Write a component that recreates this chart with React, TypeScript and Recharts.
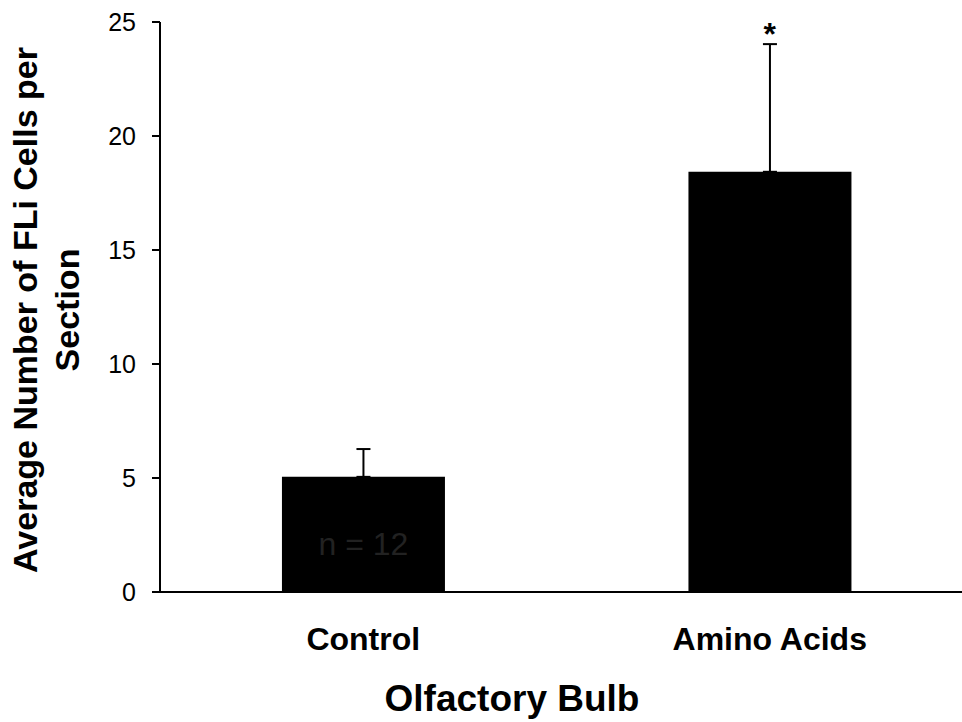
import React from 'react';
import {
  BarChart,
  Bar,
  XAxis,
  YAxis,
  ErrorBar,
  LabelList,
  ReferenceDot,
} from 'recharts';

// Values
const groups = ['Control', 'Amino Acids'];
const means = [5.05, 18.43];
const sems = [1.22, 5.6];
const insideNotes = ['n = 12', ''];
const yTicks = [0, 5, 10, 15, 20, 25];

const data = groups.map((g, i) => ({
  group: g,
  mean: means[i],
  err: [0, sems[i]],
  note: insideNotes[i],
}));

const FONT = '"Liberation Sans", Arial, Helvetica, sans-serif';

// two-line rotated y title, like the original figure
const YTitle = () => {
  const cy = 310;
  const lines = [
    { x: 37, text: 'Average Number of FLi Cells per' },
    { x: 79, text: 'Section' },
  ];
  return (
    <g>
      {lines.map((l) => (
        <text
          key={l.text}
          x={l.x}
          y={cy}
          transform={`rotate(-90, ${l.x}, ${cy})`}
          textAnchor="middle"
          fontFamily={FONT}
          fontWeight="bold"
          fontSize={34}
          fill="#000"
        >
          {l.text}
        </text>
      ))}
    </g>
  );
};

const XTitle = () => (
  <text
    x={512}
    y={711}
    textAnchor="middle"
    fontFamily={FONT}
    fontWeight="bold"
    fontSize={37}
    fill="#000"
  >
    Olfactory Bulb
  </text>
);

export default function App() {
  return (
    <div
      style={{
        position: 'absolute',
        left: 0,
        top: 0,
        width: 962,
        height: 722,
        overflow: 'hidden',
        background: '#fff',
      }}
    >
      <BarChart
        width={980}
        height={722}
        data={data}
        margin={{ top: 22, right: 7, left: 100, bottom: 0 }}
        barCategoryGap="30%"
      >
        <XAxis
          dataKey="group"
          axisLine={{ stroke: '#000', strokeWidth: 2 }}
          tickLine={false}
          height={130}
          tickMargin={29}
          tick={{ fontFamily: FONT, fontWeight: 'bold', fontSize: 32, fill: '#000' }}
          label={<XTitle />}
        />
        <YAxis
          width={60}
          domain={[0, 25]}
          ticks={yTicks}
          axisLine={{ stroke: '#000', strokeWidth: 2 }}
          tickLine={{ stroke: '#000', strokeWidth: 2 }}
          tickSize={8}
          tickMargin={16}
          tick={{ fontFamily: FONT, fontSize: 25, fill: '#000' }}
          label={<YTitle />}
        />
        <Bar dataKey="mean" fill="#000" isAnimationActive={false}>
          <ErrorBar dataKey="err" width={7} stroke="#000" strokeWidth={2} />
          <LabelList
            dataKey="note"
            position="insideBottom"
            offset={37}
            style={{ fontFamily: FONT, fontSize: 32, fill: '#222' }}
          />
        </Bar>
        <ReferenceDot
          x={groups[1]}
          y={means[1] + sems[1]}
          r={0}
          label={{
            value: '*',
            position: 'top',
            offset: -1,
            style: { fontFamily: FONT, fontWeight: 'bold', fontSize: 32, fill: '#000' },
          }}
        />
      </BarChart>
    </div>
  );
}
